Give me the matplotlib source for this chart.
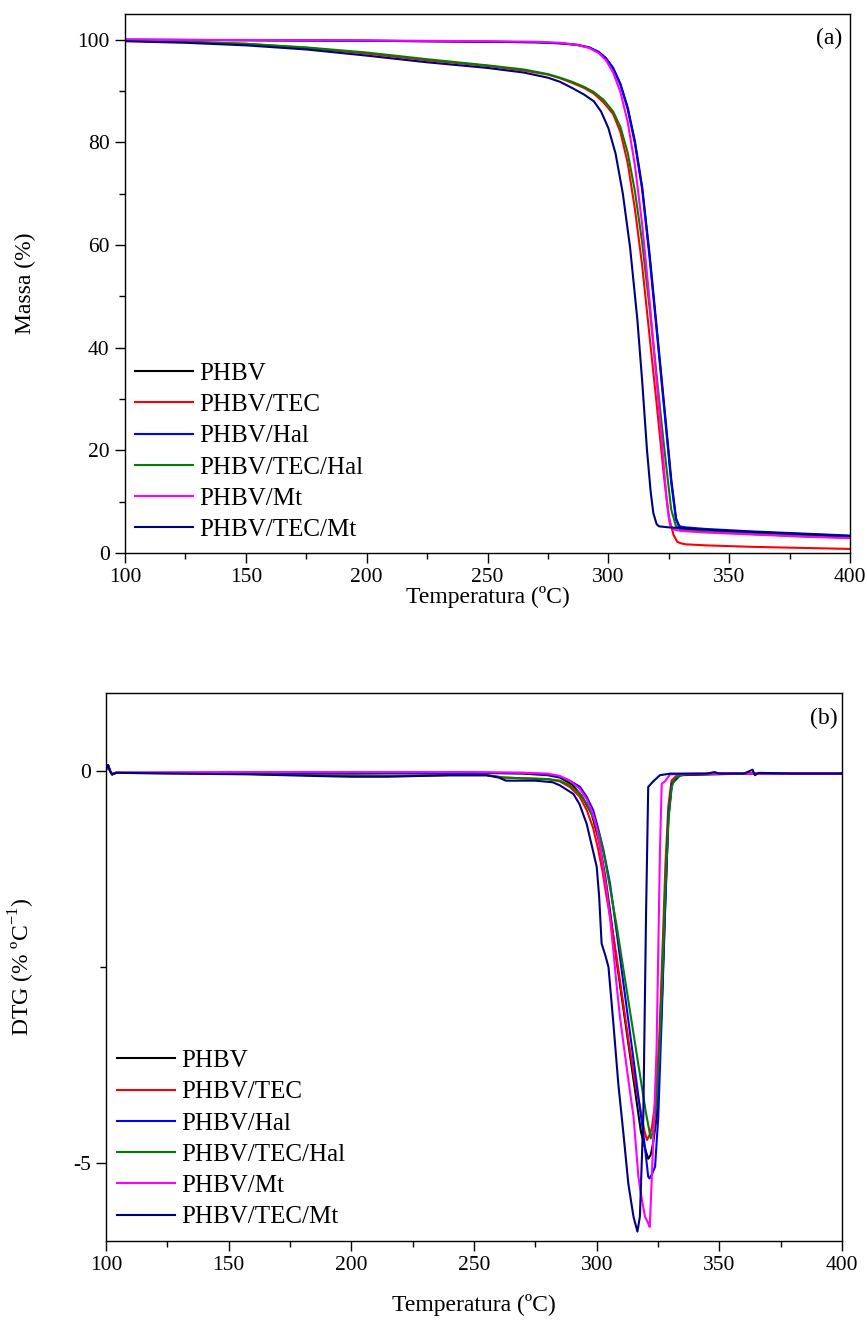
import numpy as np
import matplotlib
matplotlib.use("Agg")
import matplotlib.pyplot as plt
from matplotlib.ticker import MultipleLocator

plt.rcParams['font.family'] = ['Liberation Serif', 'DejaVu Serif']
plt.rcParams['mathtext.fontset'] = 'custom'
plt.rcParams['mathtext.rm'] = 'Liberation Serif'
plt.rcParams['axes.unicode_minus'] = False

labels = ["PHBV", "PHBV/TEC", "PHBV/Hal", "PHBV/TEC/Hal", "PHBV/Mt", "PHBV/TEC/Mt"]
colors = ["black", "red", "blue", "green", "magenta", "navy"]

# curvas TGA: temperatura (C) e massa (%)
tga_T_phbv = [100, 150, 200, 250, 270, 280, 287, 292, 296, 299, 302, 305, 308, 311, 314, 317, 320, 323, 326, 328, 329.5, 331, 340, 360, 380, 400]
tga_m_phbv = [100, 99.9, 99.8, 99.6, 99.5, 99.3, 99.0, 98.5, 97.6, 96.4, 94.5, 91.4, 86.8, 80.2, 71.3, 58.5, 44.0, 29.3, 14.5, 6.8, 4.8, 4.5, 4.2, 3.7, 3.3, 3.0]

tga_T_tec = [100, 125, 150, 175, 200, 225, 250, 265, 275, 280, 285, 290, 294, 298, 302, 305, 308, 311, 314, 317, 320, 323, 325, 327, 328.5, 330, 332, 340, 360, 380, 400]
tga_m_tec = [99.8, 99.6, 99.2, 98.4, 97.3, 96.0, 94.9, 94.0, 93.2, 92.5, 91.6, 90.6, 89.5, 87.8, 85.5, 82.0, 76.0, 67.0, 56.0, 42.5, 29.0, 15.0, 7.0, 3.5, 2.2, 1.9, 1.7, 1.5, 1.2, 1.0, 0.8]

tga_T_hal = [100, 150, 200, 250, 270, 280, 287, 292, 296, 299, 302, 305, 308, 311, 314, 317, 320, 323, 326, 328, 329.5, 332, 340, 360, 380, 400]
tga_m_hal = [100, 99.9, 99.8, 99.6, 99.5, 99.3, 99.0, 98.5, 97.6, 96.4, 94.4, 91.2, 86.5, 79.8, 70.8, 57.8, 43.3, 28.6, 13.8, 6.5, 5.2, 5.0, 4.7, 4.2, 3.8, 3.4]

tga_T_techal = [100, 125, 150, 175, 200, 225, 250, 265, 275, 280, 285, 290, 294, 298, 302, 305, 308, 311, 314, 317, 320, 323, 326, 328, 329.5, 331, 335, 350, 375, 400]
tga_m_techal = [99.8, 99.6, 99.2, 98.5, 97.5, 96.2, 95.0, 94.2, 93.3, 92.6, 91.8, 90.8, 89.8, 88.3, 86.0, 83.0, 78.0, 70.5, 60.5, 48.0, 34.5, 21.0, 8.5, 5.2, 4.7, 4.5, 4.3, 4.0, 3.5, 3.0]

tga_T_mt = [100, 150, 200, 250, 270, 280, 287, 292, 296, 299, 302, 305, 308, 311, 314, 317, 320, 322, 324, 325.5, 327, 330, 340, 360, 380, 400]
tga_m_mt = [100, 99.95, 99.85, 99.7, 99.6, 99.4, 99.0, 98.4, 97.4, 96.0, 93.6, 89.8, 84.0, 75.5, 64.0, 49.5, 33.5, 22.5, 11.0, 5.5, 4.6, 4.3, 4.0, 3.6, 3.2, 2.9]

tga_T_tecmt = [100, 125, 150, 175, 200, 225, 250, 265, 275, 280, 285, 290, 294, 297, 300, 303, 306, 309, 312, 314, 316, 317.5, 318.6, 320, 321, 325, 335, 350, 375, 400]
tga_m_tecmt = [99.7, 99.4, 98.9, 98.1, 96.9, 95.6, 94.5, 93.6, 92.6, 91.8, 90.6, 89.3, 88.0, 86.0, 82.8, 77.8, 70.0, 59.5, 45.5, 33.5, 20.0, 12.0, 7.8, 5.6, 5.2, 5.0, 4.7, 4.3, 3.8, 3.3]

# curvas DTG: temperatura (C) e derivada (% / C)
dtg_T_phbv = [100, 100.8, 101.7, 102.5, 104, 150, 200, 250, 270, 280, 285, 290, 294, 298, 301, 303.5, 305.5, 308, 310.5, 313, 315.5, 318, 320, 321, 322, 323, 324.5, 325.5, 326.5, 327.8, 329.2, 330.6, 334, 360, 380, 400]
dtg_D_phbv = [0.02, 0.08, 0.0, -0.04, -0.02, -0.02, -0.03, -0.02, -0.03, -0.05, -0.08, -0.17, -0.32, -0.55, -0.9, -1.35, -1.8, -2.4, -2.95, -3.5, -4.05, -4.6, -4.85, -4.95, -4.9, -4.75, -4.4, -3.7, -3.0, -1.8, -0.6, -0.16, -0.05, -0.03, -0.03, -0.03]

dtg_T_tec = [100, 100.8, 101.7, 102.5, 104, 150, 185, 200, 215, 240, 255, 262, 270, 280, 285, 289, 293, 296, 298.5, 300.5, 302.5, 304, 306, 308, 310.5, 313, 315.5, 318, 319.5, 320.5, 321.5, 322.5, 324, 325.5, 326.8, 328, 329.2, 330.5, 333, 350, 375, 400]
dtg_D_tec = [0.02, 0.08, 0.0, -0.04, -0.02, -0.03, -0.05, -0.06, -0.06, -0.05, -0.05, -0.08, -0.09, -0.1, -0.13, -0.2, -0.32, -0.5, -0.72, -0.98, -1.3, -1.6, -1.95, -2.35, -2.9, -3.45, -3.95, -4.35, -4.6, -4.71, -4.65, -4.55, -4.2, -3.4, -2.3, -1.2, -0.45, -0.12, -0.04, -0.03, -0.03, -0.03]

dtg_T_hal = [100, 100.8, 101.7, 102.5, 104, 150, 200, 250, 270, 280, 285, 289, 293.2, 296, 298.6, 300.5, 302.7, 305.4, 308.2, 310.9, 313.6, 316.3, 319, 320, 321, 321.5, 322.5, 323.8, 325.1, 326.5, 327.8, 329.2, 330.6, 334, 350, 375, 400]
dtg_D_hal = [0.02, 0.08, 0.0, -0.04, -0.02, -0.02, -0.02, -0.02, -0.02, -0.04, -0.07, -0.12, -0.2, -0.33, -0.5, -0.72, -1.0, -1.43, -2.07, -2.71, -3.35, -3.99, -4.63, -4.9, -5.18, -5.2, -5.15, -5.05, -4.41, -3.14, -1.86, -0.58, -0.16, -0.04, -0.03, -0.03, -0.03]

dtg_T_techal = [100, 100.8, 101.7, 102.5, 104, 150, 185, 200, 215, 240, 255, 262, 270, 280, 285, 289, 293, 296, 299, 301.5, 303.5, 305.5, 308, 310.5, 313, 315.5, 318, 320, 321.2, 322, 323, 324.2, 325.5, 326.8, 328, 329.3, 330.6, 332, 336, 350, 375, 400]
dtg_D_techal = [0.02, 0.08, 0.0, -0.04, -0.02, -0.03, -0.05, -0.06, -0.06, -0.05, -0.05, -0.08, -0.09, -0.1, -0.12, -0.18, -0.28, -0.42, -0.62, -0.85, -1.15, -1.5, -1.95, -2.45, -2.95, -3.45, -3.95, -4.35, -4.55, -4.69, -4.6, -4.3, -3.6, -2.6, -1.5, -0.6, -0.2, -0.08, -0.04, -0.03, -0.03, -0.03]

dtg_T_mt = [100, 100.8, 101.7, 102.5, 104, 150, 200, 250, 270, 280, 285, 289, 293, 296, 298.5, 300, 301.4, 303, 304.1, 305.5, 306.8, 308, 309.5, 310.8, 312.2, 313.6, 315, 317, 318.4, 319.7, 321.1, 321.6, 322, 323.2, 324.4, 325.8, 326.5, 327.8, 329.9, 340, 360, 380, 400]
dtg_D_mt = [0.02, 0.08, 0.0, -0.04, -0.02, -0.01, -0.01, -0.01, -0.02, -0.03, -0.06, -0.12, -0.22, -0.36, -0.55, -0.72, -0.97, -1.3, -1.52, -1.9, -2.29, -2.7, -3.14, -3.45, -3.78, -4.1, -4.41, -5.18, -5.47, -5.69, -5.78, -5.82, -5.55, -4.6, -3.56, -1.0, -0.16, -0.13, -0.04, -0.03, -0.03, -0.03, -0.03]

dtg_T_tecmt = [100, 100.8, 101.7, 102.5, 104, 130, 160, 185, 200, 215, 240, 255, 260, 263, 275, 282, 285, 290.5, 293, 295.9, 298, 300, 301, 302, 303.5, 304.8, 306.8, 308.8, 310.9, 312.9, 315, 316.6, 317.6, 319, 320.1, 321, 323, 325.8, 330, 345, 348, 350, 360, 363.5, 364.5, 366, 380, 400]
dtg_D_tecmt = [0.02, 0.08, 0.0, -0.04, -0.02, -0.03, -0.04, -0.06, -0.07, -0.07, -0.05, -0.05, -0.08, -0.12, -0.12, -0.14, -0.18, -0.29, -0.42, -0.67, -0.95, -1.22, -1.6, -2.2, -2.35, -2.5, -3.22, -3.99, -4.63, -5.27, -5.69, -5.88, -5.69, -4.41, -1.86, -0.2, -0.13, -0.05, -0.03, -0.03, -0.01, -0.03, -0.03, 0.02, -0.05, -0.02, -0.03, -0.03]

tga_T = [tga_T_phbv, tga_T_tec, tga_T_hal, tga_T_techal, tga_T_mt, tga_T_tecmt]
tga_m = [tga_m_phbv, tga_m_tec, tga_m_hal, tga_m_techal, tga_m_mt, tga_m_tecmt]
dtg_T = [dtg_T_phbv, dtg_T_tec, dtg_T_hal, dtg_T_techal, dtg_T_mt, dtg_T_tecmt]
dtg_D = [dtg_D_phbv, dtg_D_tec, dtg_D_hal, dtg_D_techal, dtg_D_mt, dtg_D_tecmt]

FS_TICK = 15.5
FS_LABEL = 17
FS_LEG = 18

fig = plt.figure(figsize=(8.67, 13.24), dpi=100)
ax1 = fig.add_axes([0.1442, 0.5823, 0.8362, 0.4071])
ax2 = fig.add_axes([0.1223, 0.0627, 0.8489, 0.4139])

for T, m, c, lab in zip(tga_T, tga_m, colors, labels):
    ax1.plot(T, m, color=c, lw=1.5, label=lab)
for T, d, c, lab in zip(dtg_T, dtg_D, colors, labels):
    ax2.plot(T, d, color=c, lw=1.5, label=lab)


def style_axes(ax):
    ax.set_xlim(100, 400)
    ax.xaxis.set_major_locator(MultipleLocator(50))
    ax.xaxis.set_minor_locator(MultipleLocator(25))
    ax.tick_params(which='major', direction='out', length=7.5, width=1.0,
                   labelsize=FS_TICK, top=False, right=False)
    ax.tick_params(which='minor', direction='out', length=4.5, width=1.0,
                   top=False, right=False)
    for s in ax.spines.values():
        s.set_linewidth(1.0)
    ax.set_xlabel("Temperatura (ºC)", fontsize=FS_LABEL)


style_axes(ax1)
ax1.set_ylim(0, 105)
ax1.yaxis.set_major_locator(MultipleLocator(20))
ax1.yaxis.set_minor_locator(MultipleLocator(10))
ax1.set_ylabel("Massa (%)", fontsize=FS_LABEL)
ax1.xaxis.set_label_coords(0.5, -0.0816)
ax1.yaxis.set_label_coords(-0.138, 0.5)
ax1.xaxis.label.set_va('center')
ax1.yaxis.label.set_va('center')
ax1.text(0.989, 0.954, "(a)", transform=ax1.transAxes, ha='right', va='center', fontsize=FS_LABEL)

style_axes(ax2)
ax2.set_ylim(-6, 1)
ax2.yaxis.set_major_locator(MultipleLocator(5))
ax2.yaxis.set_minor_locator(MultipleLocator(2.5))
ax2.set_ylabel("DTG (% ºC$^{-1}$)", fontsize=FS_LABEL)
ax2.xaxis.set_label_coords(0.5, -0.117)
ax2.yaxis.set_label_coords(-0.114, 0.5)
ax2.xaxis.label.set_va('center')
ax2.yaxis.label.set_va('center')
ax2.text(0.9946, 0.954, "(b)", transform=ax2.transAxes, ha='right', va='center', fontsize=FS_LABEL)

leg_kw = dict(loc='lower left', frameon=False, fontsize=FS_LEG, handlelength=2.32,
              handletextpad=0.25, labelspacing=0.35, borderpad=0, borderaxespad=0)
ax1.legend(bbox_to_anchor=(0.0138, 0.022), **leg_kw)
ax2.legend(bbox_to_anchor=(0.015, 0.023), **leg_kw)

fig.savefig("out.png", dpi=100)
